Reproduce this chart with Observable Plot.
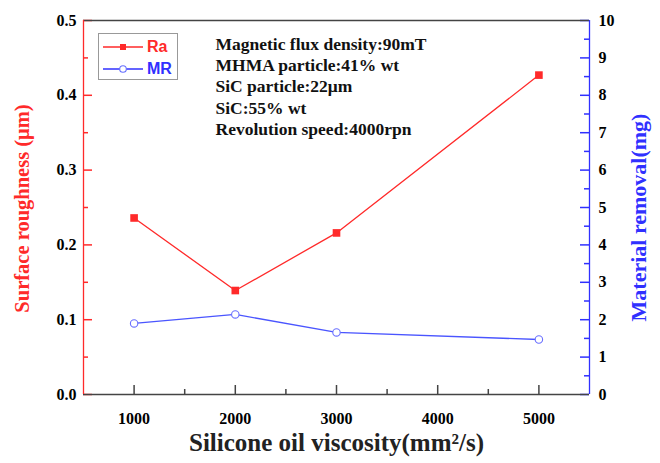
<!DOCTYPE html>
<html>
<head>
<meta charset="utf-8">
<script src="https://cdn.jsdelivr.net/npm/d3@7"></script>
<script src="https://cdn.jsdelivr.net/npm/@observablehq/plot@0.6"></script>
<style>
  body { margin: 0; background: white; }
  #wrap { position: relative; width: 660px; height: 463px; }
  .legend { position: absolute; left: 98px; top: 33px; width: 78px; height: 45px; border: 1px solid #999; background: white; font-family: "Liberation Sans", Arial, sans-serif; font-weight: bold; font-size: 16px; }
  .legend .row { position: absolute; left: 0; height: 20px; }
  .legend .sw { position: absolute; left: 3px; top: 0; }
  .legend span { position: absolute; left: 48px; top: 1px; }
</style>
</head>
<body>
<div id="wrap"></div>
<script>
const red = "#ff2a2a";
const blue = "#3030ff";

const viscosity = [1000, 2000, 3000, 5000];
const raValues = [0.236, 0.139, 0.216, 0.427];
const mrValues = [1.90, 2.14, 1.66, 1.47];

const xMajorTicks = [1000, 2000, 3000, 4000, 5000];
const xMinorTicks = [1500, 2500, 3500, 4500];
const raMajorTicks = [0, 0.1, 0.2, 0.3, 0.4, 0.5];
const raMinorTicks = [0.05, 0.15, 0.25, 0.35, 0.45];
const mrMajorTicks = [0, 1, 2, 3, 4, 5, 6, 7, 8, 9, 10];
const mrMinorTicks = [0.5, 1.5, 2.5, 3.5, 4.5, 5.5, 6.5, 7.5, 8.5, 9.5];

const notes = [
  "Magnetic flux density:90mT",
  "MHMA particle:41% wt",
  "SiC particle:22μm",
  "SiC:55% wt",
  "Revolution speed:4000rpn"
];

const mrMax = 10, raMax = 0.5;
const toRa = v => v * raMax / mrMax;   // map MR (mg) onto the shared y scale

const raData = viscosity.map((x, i) => ({x, y: raValues[i]}));
const mrData = viscosity.map((x, i) => ({x, y: toRa(mrValues[i])}));

const W = 660, H = 463, ML = 83, MR = 71, MT = 20, MB = 69;
const frameW = W - ML - MR, frameH = H - MT - MB;

const chart = Plot.plot({
  width: W,
  height: H,
  marginLeft: ML,
  marginRight: MR,
  marginTop: MT,
  marginBottom: MB,
  x: {domain: [500, 5500]},
  y: {domain: [0, raMax]},
  marks: [
    // inward ticks
    Plot.tickY(raMajorTicks, {y: d => d, stroke: red, strokeWidth: 1.5, insetRight: frameW - 9}),
    Plot.tickY(raMinorTicks, {y: d => d, stroke: red, strokeWidth: 1.5, insetRight: frameW - 5}),
    Plot.tickY(mrMajorTicks, {y: toRa, stroke: blue, strokeWidth: 1.5, insetLeft: frameW - 9}),
    Plot.tickY(mrMinorTicks, {y: toRa, stroke: blue, strokeWidth: 1.5, insetLeft: frameW - 5}),
    Plot.tickX(xMajorTicks, {x: d => d, stroke: "#444", strokeWidth: 1.5, insetTop: frameH - 9}),
    Plot.tickX(xMinorTicks, {x: d => d, stroke: "#444", strokeWidth: 1.5, insetTop: frameH - 5}),

    // frame
    Plot.ruleY([raMax], {stroke: "#444", strokeWidth: 1.3}),
    Plot.ruleY([0], {stroke: "#444", strokeWidth: 1.3}),
    Plot.ruleX([500], {stroke: red, strokeWidth: 1.3}),
    Plot.ruleX([5500], {stroke: blue, strokeWidth: 1.3}),

    // tick labels
    Plot.axisY(raMajorTicks, {anchor: "left", tickSize: 0, tickPadding: 7, tickFormat: d3.format(".1f"), label: null, fontSize: 16, fontWeight: "bold", fontFamily: "Liberation Serif", fill: "black"}),
    Plot.axisY(mrMajorTicks.map(toRa), {anchor: "right", tickSize: 0, tickPadding: 9, tickFormat: d => String(Math.round(d * mrMax / raMax)), label: null, fontSize: 16, fontWeight: "bold", fontFamily: "Liberation Serif", fill: "black"}),
    Plot.axisX(xMajorTicks, {anchor: "bottom", tickSize: 0, tickPadding: 18, label: null, tickFormat: d => String(d), fontSize: 16, fontWeight: "bold", fontFamily: "Liberation Serif", fill: "black"}),

    // axis titles
    Plot.text(["Surface roughness (μm)"], {frameAnchor: "left", textAnchor: "middle", dx: -61, dy: 1, rotate: -90, fill: red, fontSize: 20.5, fontWeight: "bold", fontFamily: "Liberation Serif"}),
    Plot.text(["Material removal(mg)"], {frameAnchor: "right", textAnchor: "middle", dx: 49, dy: 10, rotate: -90, fill: blue, fontSize: 22, fontWeight: "bold", fontFamily: "Liberation Serif"}),
    Plot.text(["Silicone oil viscosity(mm²/s)"], {frameAnchor: "bottom", textAnchor: "middle", dy: 56, fontSize: 25, fontWeight: "bold", fontFamily: "Liberation Serif", fill: "#222"}),

    // annotation
    Plot.text([notes.join("\n")], {frameAnchor: "top-left", dx: 132, dy: 14, textAnchor: "start", lineAnchor: "top", lineHeight: 1.22, fontSize: 17.5, fontWeight: "bold", fontFamily: "Liberation Serif", fill: "#111"}),

    // data
    Plot.line(raData, {x: "x", y: "y", stroke: red, strokeWidth: 1.3}),
    Plot.dot(raData, {x: "x", y: "y", symbol: "square", r: 4.3, fill: red, stroke: "none"}),
    Plot.line(mrData, {x: "x", y: "y", stroke: "#4a55ff", strokeWidth: 1.3}),
    Plot.dot(mrData, {x: "x", y: "y", symbol: "circle", r: 3.7, fill: "white", stroke: "#6a70ff", strokeWidth: 1.1})
  ]
});

const wrap = document.getElementById("wrap");
wrap.appendChild(chart);

const legend = document.createElement("div");
legend.className = "legend";
legend.innerHTML = `
  <div class="row" style="top:3px">
    <svg class="sw" width="44" height="20"><line x1="1" y1="10" x2="41" y2="10" stroke="${red}" stroke-width="1.3"/><rect x="18" y="7" width="6" height="6" fill="${red}"/></svg>
    <span style="color:${red}">Ra</span>
  </div>
  <div class="row" style="top:25px">
    <svg class="sw" width="44" height="20"><line x1="1" y1="10" x2="41" y2="10" stroke="${blue}" stroke-width="1.3"/><circle cx="21" cy="10" r="3.3" fill="white" stroke="#6670ff" stroke-width="1.1"/></svg>
    <span style="color:${blue}">MR</span>
  </div>`;
wrap.appendChild(legend);
</script>
</body>
</html>
